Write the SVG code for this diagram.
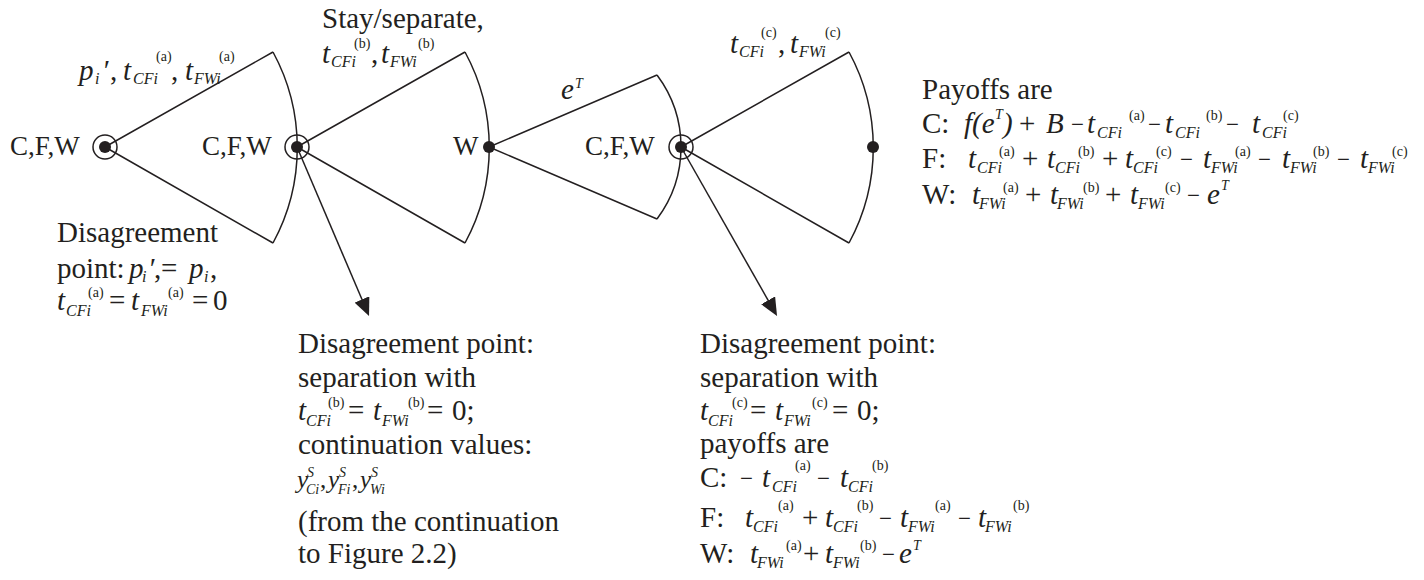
<svg xmlns="http://www.w3.org/2000/svg" width="1424" height="580" viewBox="0 0 1424 580">
<style>
text{font-family:"Liberation Serif","Times New Roman",serif;fill:#231f20;font-size:29px}
.lbl{font-size:27px}
.i{font-style:italic}
.sb{font-style:italic;font-size:16px}
.sp{font-size:14px}
.spi{font-style:italic;font-size:14px}
.mn{font-size:23px}
.ln{stroke:#231f20;stroke-width:1.5;fill:none}
.dot{fill:#231f20}
.ring{fill:none;stroke:#231f20;stroke-width:1.5}
</style>
<defs>
<marker id="ah" viewBox="0 0 18 16" refX="8" refY="8" markerWidth="18" markerHeight="16" markerUnits="userSpaceOnUse" orient="auto">
<path d="M0,0 L18,8 L0,16 z" fill="#231f20"/>
</marker>
</defs>
<rect width="1424" height="580" fill="#fff"/>
<g id="connectors">
<path class="ln" d="M105,147 L273,52 M105,147 L273,243 M273,52 A200,200 0 0,1 273,243"/>
<path class="ln" d="M297,147 L465,52 M297,147 L465,243 M465,52 A200,200 0 0,1 465,243"/>
<path class="ln" d="M489,147 L657,75 M489,147 L657,219 M657,75 A120,120 0 0,1 657,219"/>
<path class="ln" d="M681,147 L849,52 M681,147 L849,243 M849,52 A200,200 0 0,1 849,243"/>
<line class="ln" x1="297" y1="147" x2="365.1" y2="306.8" marker-end="url(#ah)"/>
<line class="ln" x1="681" y1="147" x2="772.1" y2="307.3" marker-end="url(#ah)"/>
</g>
<g id="node-root">
<circle class="ring" cx="105" cy="147" r="12"/>
<circle class="dot" cx="105" cy="147" r="6"/>
<text class="lbl" x="10" y="155">C,F,W</text>
</g>
<g id="node-stay">
<circle class="ring" cx="297" cy="147" r="12"/>
<circle class="dot" cx="297" cy="147" r="6"/>
<text class="lbl" x="202" y="155">C,F,W</text>
</g>
<g id="node-w">
<circle class="dot" cx="489" cy="147" r="6"/>
<text class="lbl" x="453" y="155">W</text>
</g>
<g id="node-c">
<circle class="ring" cx="681" cy="147" r="12"/>
<circle class="dot" cx="681" cy="147" r="6"/>
<text class="lbl" x="585" y="155">C,F,W</text>
</g>
<g id="node-end">
<circle class="dot" cx="873" cy="147" r="6"/>
</g>
<g id="edge-labels">
<text><tspan class="i" x="79" y="80">p</tspan><tspan class="sb" x="95" y="84">i</tspan><tspan class="i" x="102" y="80">′</tspan><tspan x="110" y="80">,</tspan><tspan class="i" x="123" y="80">t</tspan><tspan class="sb" x="133" y="84">CFi</tspan><tspan class="sp" x="156" y="61">(a)</tspan><tspan x="171" y="80">,</tspan><tspan class="i" x="185" y="80">t</tspan><tspan class="sb" x="194" y="84">FWi</tspan><tspan class="sp" x="219" y="61">(a)</tspan></text>
<text x="322" y="28">Stay/separate,</text>
<text><tspan class="i" x="322" y="63">t</tspan><tspan class="sb" x="331" y="67">CFi</tspan><tspan class="sp" x="354" y="48">(b)</tspan><tspan x="371" y="63">,</tspan><tspan class="i" x="381" y="63">t</tspan><tspan class="sb" x="390" y="67">FWi</tspan><tspan class="sp" x="418" y="48">(b)</tspan></text>
<text><tspan class="i" x="561" y="99">e</tspan><tspan class="spi" x="575" y="88">T</tspan></text>
<text><tspan class="i" x="730" y="53">t</tspan><tspan class="sb" x="739" y="57">CFi</tspan><tspan class="sp" x="761" y="37">(c)</tspan><tspan x="778" y="53">,</tspan><tspan class="i" x="790" y="53">t</tspan><tspan class="sb" x="799" y="57">FWi</tspan><tspan class="sp" x="825" y="37">(c)</tspan></text>
</g>
<g id="disagreement-a">
<text x="57" y="242">Disagreement</text>
<text><tspan x="57" y="278">point:</tspan><tspan class="i" x="129" y="278">p</tspan><tspan class="sb" x="142" y="282">i</tspan><tspan class="i" x="148" y="278">′</tspan><tspan x="154" y="278">,</tspan><tspan x="161" y="278">=</tspan><tspan class="i" x="189" y="278">p</tspan><tspan class="sb" x="204" y="282">i</tspan><tspan x="210" y="278">,</tspan></text>
<text><tspan class="i" x="57" y="310">t</tspan><tspan class="sb" x="66" y="316">CFi</tspan><tspan class="sp" x="88" y="297">(a)</tspan><tspan x="109" y="310">=</tspan><tspan class="i" x="131" y="310">t</tspan><tspan class="sb" x="141" y="316">FWi</tspan><tspan class="sp" x="168" y="297">(a)</tspan><tspan x="192" y="310">=</tspan><tspan x="213" y="310">0</tspan></text>
</g>
<g id="payoffs">
<text x="922" y="99">Payoffs are</text>
<text><tspan x="922" y="133">C:</tspan><tspan class="i" x="964" y="133">f(e</tspan><tspan class="spi" x="995" y="119">T</tspan><tspan class="i" x="1003" y="133">)</tspan><tspan x="1019" y="133">+</tspan><tspan class="i" x="1046" y="133">B</tspan><tspan class="mn" x="1071" y="132">−</tspan><tspan class="i" x="1087" y="133">t</tspan><tspan class="sb" x="1097" y="138">CFi</tspan><tspan class="sp" x="1129" y="120">(a)</tspan><tspan class="mn" x="1148" y="132">−</tspan><tspan class="i" x="1165" y="133">t</tspan><tspan class="sb" x="1175" y="138">CFi</tspan><tspan class="sp" x="1206" y="120">(b)</tspan><tspan class="mn" x="1226" y="132">−</tspan><tspan class="i" x="1252" y="133">t</tspan><tspan class="sb" x="1262" y="138">CFi</tspan><tspan class="sp" x="1283" y="120">(c)</tspan></text>
<text><tspan x="922" y="168">F:</tspan><tspan class="i" x="968" y="168">t</tspan><tspan class="sb" x="977" y="173">CFi</tspan><tspan class="sp" x="999" y="156">(a)</tspan><tspan x="1022" y="168">+</tspan><tspan class="i" x="1047" y="168">t</tspan><tspan class="sb" x="1055" y="173">CFi</tspan><tspan class="sp" x="1078" y="156">(b)</tspan><tspan x="1102" y="168">+</tspan><tspan class="i" x="1125" y="168">t</tspan><tspan class="sb" x="1133" y="173">CFi</tspan><tspan class="sp" x="1156" y="156">(c)</tspan><tspan class="mn" x="1180" y="167">−</tspan><tspan class="i" x="1203" y="168">t</tspan><tspan class="sb" x="1211" y="173">FWi</tspan><tspan class="sp" x="1235" y="156">(a)</tspan><tspan class="mn" x="1258" y="167">−</tspan><tspan class="i" x="1282" y="168">t</tspan><tspan class="sb" x="1290" y="173">FWi</tspan><tspan class="sp" x="1313" y="156">(b)</tspan><tspan class="mn" x="1337" y="167">−</tspan><tspan class="i" x="1360" y="168">t</tspan><tspan class="sb" x="1368" y="173">FWi</tspan><tspan class="sp" x="1392" y="156">(c)</tspan></text>
<text><tspan x="922" y="204">W:</tspan><tspan class="i" x="972" y="204">t</tspan><tspan class="sb" x="979" y="209">FWi</tspan><tspan class="sp" x="1003" y="192">(a)</tspan><tspan x="1025" y="204">+</tspan><tspan class="i" x="1050" y="204">t</tspan><tspan class="sb" x="1057" y="209">FWi</tspan><tspan class="sp" x="1083" y="192">(b)</tspan><tspan x="1105" y="204">+</tspan><tspan class="i" x="1130" y="204">t</tspan><tspan class="sb" x="1138" y="209">FWi</tspan><tspan class="sp" x="1165" y="192">(c)</tspan><tspan class="mn" x="1187" y="203">−</tspan><tspan class="i" x="1207" y="204">e</tspan><tspan class="spi" x="1221" y="190">T</tspan></text>
</g>
<g id="disagreement-b">
<text x="298" y="353">Disagreement point:</text>
<text x="298" y="387">separation with</text>
<text><tspan class="i" x="298" y="420">t</tspan><tspan class="sb" x="306" y="426">CFi</tspan><tspan class="sp" x="328" y="407">(b)</tspan><tspan x="348" y="420">=</tspan><tspan class="i" x="373" y="420">t</tspan><tspan class="sb" x="382" y="426">FWi</tspan><tspan class="sp" x="408" y="407">(b)</tspan><tspan x="427" y="420">=</tspan><tspan x="452" y="420">0;</tspan></text>
<text x="298" y="454">continuation values:</text>
<text><tspan class="i" x="297" y="488" font-size="25">y</tspan><tspan class="spi" x="307" y="477">S</tspan><tspan class="spi" x="306" y="494">Ci</tspan><tspan x="320" y="488" font-size="25">,</tspan><tspan class="i" x="328" y="488" font-size="25">y</tspan><tspan class="spi" x="339" y="477">S</tspan><tspan class="spi" x="338" y="494">Fi</tspan><tspan x="352" y="488" font-size="25">,</tspan><tspan class="i" x="360" y="488" font-size="25">y</tspan><tspan class="spi" x="371" y="477">S</tspan><tspan class="spi" x="370" y="494">Wi</tspan></text>
<text x="298" y="531">(from the continuation</text>
<text x="298" y="563">to Figure 2.2)</text>
</g>
<g id="disagreement-c">
<text x="700" y="353">Disagreement point:</text>
<text x="700" y="387">separation with</text>
<text><tspan class="i" x="700" y="420">t</tspan><tspan class="sb" x="708" y="426">CFi</tspan><tspan class="sp" x="732" y="407">(c)</tspan><tspan x="750" y="420">=</tspan><tspan class="i" x="775" y="420">t</tspan><tspan class="sb" x="784" y="426">FWi</tspan><tspan class="sp" x="812" y="407">(c)</tspan><tspan x="832" y="420">=</tspan><tspan x="857" y="420">0;</tspan></text>
<text x="700" y="453">payoffs are</text>
<text><tspan x="700" y="487">C:</tspan><tspan class="mn" x="740" y="486">−</tspan><tspan class="i" x="762" y="487">t</tspan><tspan class="sb" x="772" y="492">CFi</tspan><tspan class="sp" x="795" y="470">(a)</tspan><tspan class="mn" x="817" y="486">−</tspan><tspan class="i" x="840" y="487">t</tspan><tspan class="sb" x="848" y="492">CFi</tspan><tspan class="sp" x="872" y="470">(b)</tspan></text>
<text><tspan x="700" y="527">F:</tspan><tspan class="i" x="745" y="527">t</tspan><tspan class="sb" x="753" y="532">CFi</tspan><tspan class="sp" x="778" y="510">(a)</tspan><tspan x="802" y="527">+</tspan><tspan class="i" x="825" y="527">t</tspan><tspan class="sb" x="833" y="532">CFi</tspan><tspan class="sp" x="857" y="510">(b)</tspan><tspan class="mn" x="879" y="526">−</tspan><tspan class="i" x="900" y="527">t</tspan><tspan class="sb" x="908" y="532">FWi</tspan><tspan class="sp" x="935" y="510">(a)</tspan><tspan class="mn" x="958" y="526">−</tspan><tspan class="i" x="978" y="527">t</tspan><tspan class="sb" x="985" y="532">FWi</tspan><tspan class="sp" x="1013" y="510">(b)</tspan></text>
<text><tspan x="700" y="563">W:</tspan><tspan class="i" x="750" y="563">t</tspan><tspan class="sb" x="757" y="568">FWi</tspan><tspan class="sp" x="786" y="550">(a)</tspan><tspan x="803" y="563">+</tspan><tspan class="i" x="825" y="563">t</tspan><tspan class="sb" x="833" y="568">FWi</tspan><tspan class="sp" x="860" y="550">(b)</tspan><tspan class="mn" x="882" y="562">−</tspan><tspan class="i" x="899" y="563">e</tspan><tspan class="spi" x="913" y="550">T</tspan></text>
</g>
</svg>
